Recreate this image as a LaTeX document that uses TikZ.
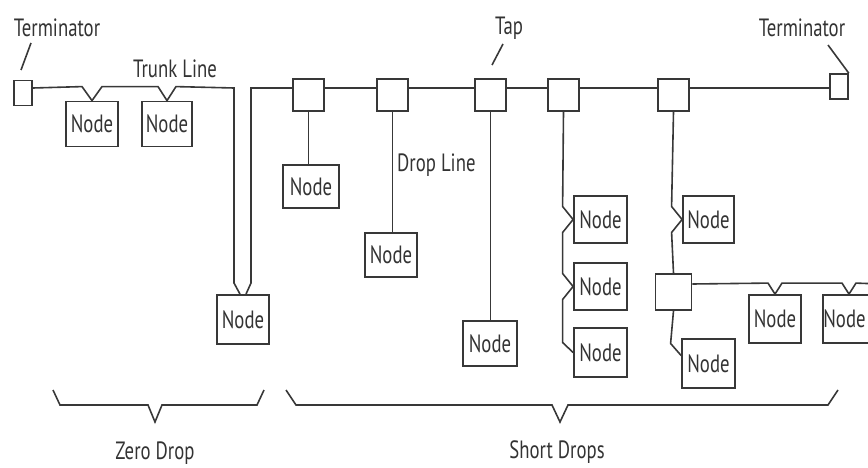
\documentclass[tikz,border=0pt]{standalone}
\usepackage{fontspec}
\setmainfont{PT Sans}[FakeStretch=0.75]
\usetikzlibrary{calc}
\begin{document}
\begin{tikzpicture}[x=1pt,y=-1pt,
  wire/.style={draw=black!78,line width=1.6pt,line join=miter},
  lbl/.style={text=black!80,font=\fontsize{25}{28}\selectfont,inner sep=0pt},
  nodebox/.style={draw=black!78,line width=1.8pt,fill=white,inner sep=0pt,
     minimum width=52pt,minimum height=45pt,text=black!80,font=\fontsize{25}{28}\selectfont},
  tapbox/.style={draw=black!78,line width=1.8pt,fill=white,inner sep=0pt,
     minimum width=31pt,minimum height=32pt},
  termbox/.style={draw=black!78,line width=1.6pt,fill=white,inner sep=0pt,
     minimum width=18pt,minimum height=25pt}]
\clip (0,0) rectangle (868,468);
\coordinate (trk) at (0,88);
% terminators and taps
\node[termbox] (termL) at (23,93) {};
\node[termbox] (termR) at (839,86.5) {};
\node[tapbox] (t1) at (308.5,95) {};
\node[tapbox] (t2) at (392.5,95) {};
\node[tapbox] (t3) at (490.5,95) {};
\node[tapbox] (t4) at (563.5,95) {};
\node[tapbox] (t5) at (673.5,95) {};
\node[tapbox,minimum width=36pt,minimum height=36pt] (st) at (673.5,292) {};
% nodes
\node[nodebox] (n1) at (92,124) {Node};
\node[nodebox,minimum width=50pt] (n2) at (167,124) {Node};
\node[nodebox,minimum height=49pt] (nZ) at (243,319.5) {Node};
\node[nodebox,minimum width=56pt,minimum height=43pt] (d1) at (311,186.5) {Node};
\node[nodebox,minimum height=44pt] (d2) at (391,255) {Node};
\node[nodebox,minimum width=54pt] (d3) at (490,343.5) {Node};
\node[nodebox,minimum width=53pt,minimum height=47pt] (d4a) at (600.5,219.5) {Node};
\node[nodebox,minimum width=53pt,minimum height=47pt] (d4b) at (600.5,286.5) {Node};
\node[nodebox,minimum width=53pt,minimum height=49pt] (d4c) at (600.5,352.5) {Node};
\node[nodebox,minimum width=51pt,minimum height=47pt] (d5a) at (708.5,219.5) {Node};
\node[nodebox,minimum width=53pt,minimum height=49pt] (d5b) at (708.5,363.5) {Node};
\node[nodebox,minimum height=48pt] (s1) at (775,319) {Node};
\node[nodebox,minimum height=48pt] (s2) at (849,319) {Node\hspace*{9pt}};
% trunk, left part with zero drop
\draw[wire] (termL.east |- trk) -- ($(n1.north)+(-10,-14)$) -- (n1.north) -- ($(n1.north)+(10,-14)$)
   -- ($(n2.north)+(-9,-14)$) -- (n2.north) -- ($(n2.north)+(9,-14)$)
   -- (234,88) -- (234,283) -- ($(nZ.north)+(-3,0)$);
\draw[wire] ($(nZ.north)+(3,0)$) -- (251,283) -- (251,88) -- (t1.west |- trk);
% trunk, right part
\draw[wire] (t1.east |- trk) -- (t2.west |- trk);
\draw[wire] (t2.east |- trk) -- (t3.west |- trk);
\draw[wire] (t3.east |- trk) -- (t4.west |- trk);
\draw[wire] (t4.east |- trk) -- (t5.west |- trk);
\draw[wire] (t5.east |- trk) -- (termR.west |- trk);
% drop lines
\draw[wire] (t1.south) -- (t1.south |- d1.north);
\draw[wire] (t2.south) -- (t2.south |- d2.north);
\draw[wire] (t3.south) -- (t3.south |- d3.north);
\draw[wire] (t4.south) -- ($(d4a.west)+(-10.5,-13)$) -- (d4a.west) -- ($(d4a.west)+(-10.5,13)$)
   -- ($(d4b.west)+(-10.5,-13)$) -- (d4b.west) -- ($(d4b.west)+(-10.5,13)$)
   -- ($(d4c.west)+(-10.5,-10)$) -- (d4c.west);
\draw[wire] (t5.south) -- ($(d5a.west)+(-10.5,-13)$) -- (d5a.west) -- ($(d5a.west)+(-10.5,13)$) -- (st.north);
\draw[wire] (st.south) -- ($(d5b.west)+(-10.5,-20)$) -- ($(d5b.west)+(0,-8)$);
\draw[wire] (st.east |- 0,284) -- ($(s1.north)+(-7,-11)$) -- (s1.north) -- ($(s1.north)+(7,-11)$)
   -- ($(s2.north)+(-7,-11)$) -- (s2.north) -- ($(s2.north)+(7,-11)$) -- (880,284);
% labels and pointers
\node[lbl] (lTermL) at (57,28) {Terminator};
\coordinate (pTL1) at (31,43);
\coordinate (pTL2) at (21,70);
\draw[wire] (pTL1) -- (pTL2);
\node[lbl] (lTrunk) at (175,69) {Trunk Line};
\node[lbl] (lTap) at (509,28) {Tap};
\coordinate (pTap1) at (503,44);
\coordinate (pTap2) at (492,65);
\draw[wire] (pTap1) -- (pTap2);
\node[lbl] (lTermR) at (802,28) {Terminator};
\coordinate (pTR1) at (828,45);
\draw[wire] (pTR1) -- (termR.north east);
\node[lbl,anchor=west] (lDrop) at (397,165) {Drop Line};
% braces
\coordinate (bz1) at (53,390);
\coordinate (bz2) at (264,390);
\coordinate (bs1) at (286,390);
\coordinate (bs2) at (838,390);
\draw[wire] (bz1) -- (60,405) -- (148,405) -- (155,422) -- (162,405) -- (257,405) -- (bz2);
\draw[wire] (bs1) -- (296,405) -- (552,405) -- (560,422) -- (568,405) -- (828,405) -- (bs2);
\node[lbl] (lZero) at (155,453) {Zero Drop};
\node[lbl] (lShort) at (557,452) {Short Drops};
\end{tikzpicture}
\end{document}
